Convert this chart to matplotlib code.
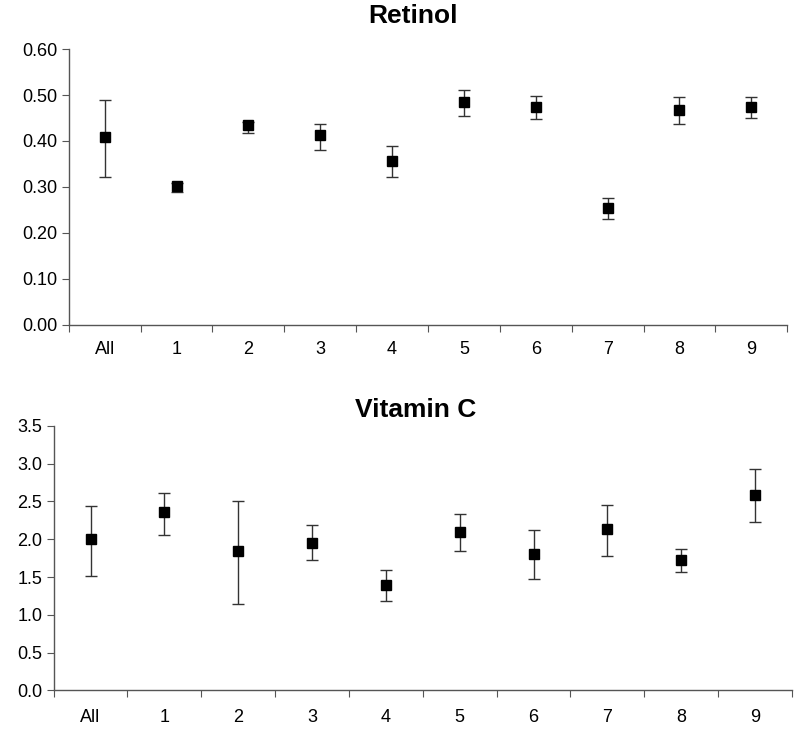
#!/usr/bin/env python3
"""Retinol and vitamin C means with asymmetric error bars, by group."""

import matplotlib

matplotlib.use("Agg")
import matplotlib.pyplot as plt
from matplotlib.ticker import FixedLocator, NullFormatter, FixedFormatter

plt.rcParams["font.family"] = ["Liberation Sans", "DejaVu Sans"]

GROUPS = ["All", "1", "2", "3", "4", "5", "6", "7", "8", "9"]

RETINOL = [0.409, 0.303, 0.434, 0.412, 0.357, 0.485, 0.475, 0.254, 0.467, 0.475]
RETINOL_HI = [0.489, 0.309, 0.442, 0.436, 0.388, 0.510, 0.498, 0.275, 0.495, 0.495]
RETINOL_LO = [0.321, 0.289, 0.418, 0.380, 0.321, 0.454, 0.447, 0.230, 0.436, 0.451]

VITC = [2.00, 2.36, 1.84, 1.95, 1.40, 2.09, 1.81, 2.13, 1.73, 2.58]
VITC_HI = [2.44, 2.61, 2.50, 2.19, 1.59, 2.33, 2.12, 2.46, 1.87, 2.93]
VITC_LO = [1.51, 2.06, 1.14, 1.72, 1.19, 1.85, 1.47, 1.78, 1.57, 2.23]


def draw_panel(ax, mean, hi, lo, ymax, ystep, fmt, xpad):
    x = list(range(len(GROUPS)))
    yerr = [[m - l for m, l in zip(mean, lo)], [h - m for m, h in zip(mean, hi)]]
    ax.errorbar(
        x, mean, yerr=yerr, fmt="s", color="black", markersize=7,
        ecolor="#333333", elinewidth=1.0, capsize=4.5, capthick=1.0,
    )
    ax.set_xlim(-0.5, len(GROUPS) - 0.5)
    ax.set_ylim(0, ymax)
    nticks = int(round(ymax / ystep)) + 1
    yt = [i * ystep for i in range(nticks)]
    ax.set_yticks(yt)
    ax.set_yticklabels([fmt.format(v) for v in yt])

    # Excel-style category axis: ticks between groups, labels centred
    ax.xaxis.set_major_locator(FixedLocator([i - 0.5 for i in range(len(GROUPS) + 1)]))
    ax.xaxis.set_major_formatter(NullFormatter())
    ax.xaxis.set_minor_locator(FixedLocator(x))
    ax.xaxis.set_minor_formatter(FixedFormatter(GROUPS))
    ax.tick_params(axis="x", which="major", length=5, color="#555555")
    ax.tick_params(axis="x", which="minor", length=0, pad=xpad, labelsize=13)
    ax.tick_params(axis="y", length=5, color="#555555", labelsize=13, pad=3)

    for side in ("top", "right"):
        ax.spines[side].set_visible(False)
    for side in ("left", "bottom"):
        ax.spines[side].set_color("#555555")
        ax.spines[side].set_linewidth(1.0)


def main():
    fig = plt.figure(figsize=(8.0, 7.33), dpi=100)
    ax1 = fig.add_axes([0.086, 0.557, 0.898, 0.376])
    ax2 = fig.add_axes([0.067, 0.058, 0.923, 0.361])
    draw_panel(ax1, RETINOL, RETINOL_HI, RETINOL_LO, 0.60, 0.10, "{:.2f}", 12)
    draw_panel(ax2, VITC, VITC_HI, VITC_LO, 3.5, 0.5, "{:.1f}", 13)
    fig.text(0.516, 0.9775, "Retinol", ha="center", va="center",
             fontsize=19, fontweight="bold")
    fig.text(0.519, 0.4407, "Vitamin C", ha="center", va="center",
             fontsize=19, fontweight="bold")
    fig.savefig("out.png", dpi=100)
    plt.close(fig)


if __name__ == "__main__":
    main()
